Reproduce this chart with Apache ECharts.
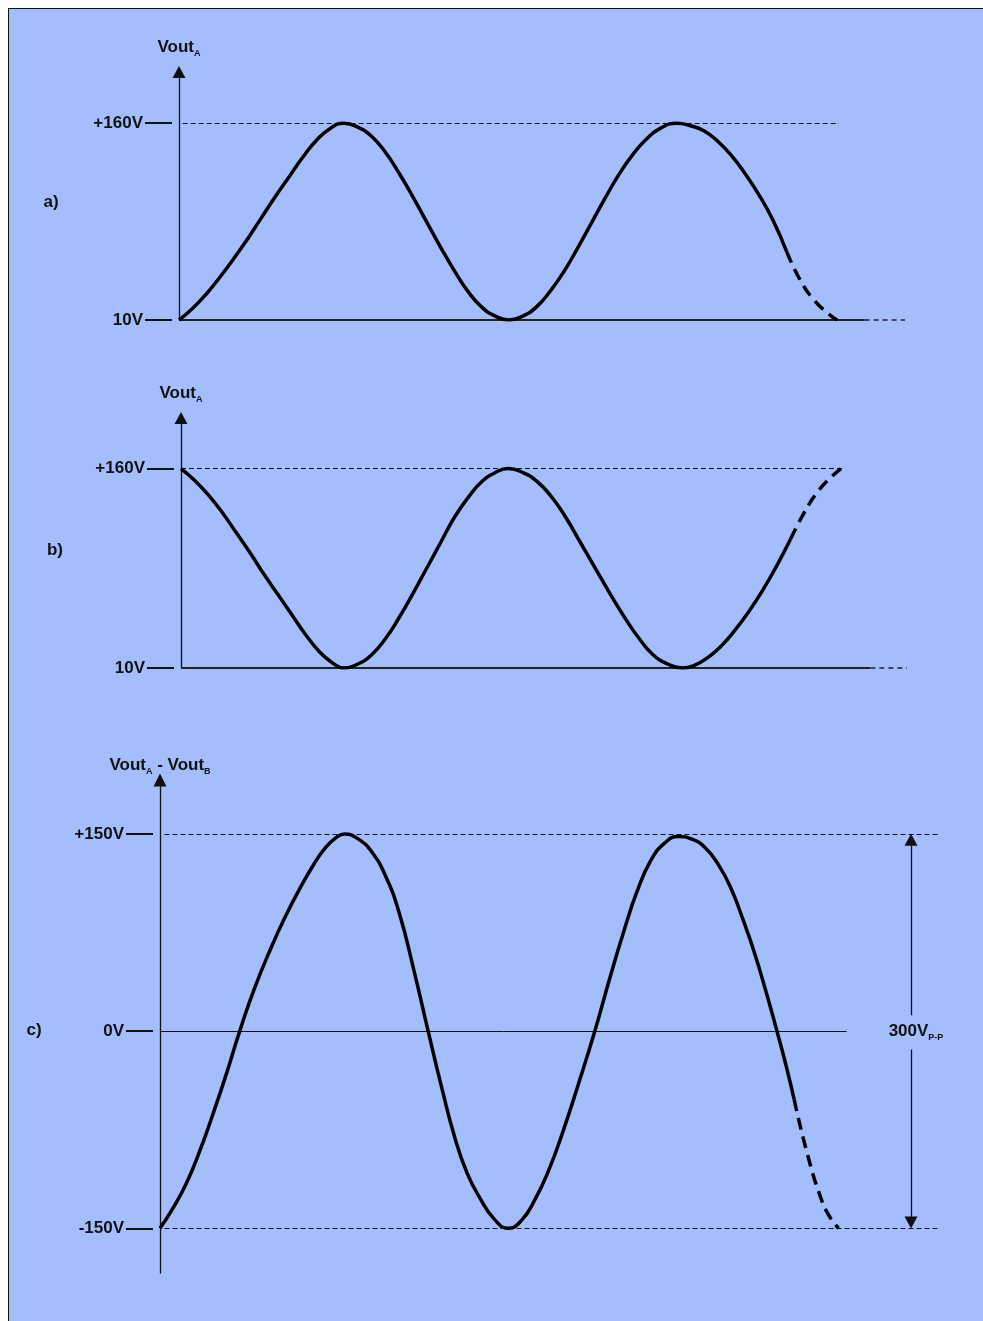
<!DOCTYPE html>
<html><head><meta charset="utf-8">
<script src="https://cdn.jsdelivr.net/npm/echarts@6/dist/echarts.min.js"></script>
<style>
html,body{margin:0;padding:0;background:#fff;}
#wrap{position:relative;width:983px;height:1321px;overflow:hidden;background:#fff;}
#panel{position:absolute;left:8px;top:8px;width:1000px;height:1400px;background:#a4bdfd;border-top:1.5px solid #111;border-left:1.5px solid #111;}
#chart{position:absolute;left:0;top:0;width:983px;height:1321px;}
</style></head><body>
<div id="wrap"><div id="panel"></div><div id="chart"></div></div>
<script>
// ---- data (phase in degrees, voltage in V) ----
const phaseA = [0, 15, 30, 45, 60, 75, 90, 105, 120, 135, 150, 165, 180,
  195, 210, 225, 240, 255, 270, 285, 300, 315, 330, 345, 360,
  375, 390, 405, 420, 435, 450, 465, 480, 495, 510, 525, 543,
  558, 573, 588, 603, 618, 633, 648, 663, 678, 693, 708, 718];
const voutA = [10, 19, 30, 43, 57, 72, 88, 104, 119, 134, 147, 156, 160,
  157, 150, 138, 122, 104, 85, 66, 48, 32, 20, 13, 10,
  13, 20, 32, 47, 65, 84, 103, 121, 136, 148, 156, 160,
  158, 154, 146, 135, 121, 105, 86, 62, 40, 25, 15, 10];
const dashFromA = 663;

const phaseB = [0, 15, 30, 45, 60, 75, 90, 105, 120, 135, 150, 165, 178,
  193, 208, 223, 238, 253, 268, 283, 298, 313, 328, 343, 357,
  373, 389, 405, 420, 436, 452, 468, 484, 500, 515, 531, 547,
  560, 575, 590, 605, 620, 635, 650, 665, 680, 695, 710, 720];
const voutB = [160, 151, 140, 127, 112, 97, 81, 66, 51, 36, 23, 14, 10,
  13, 20, 32, 48, 66, 85, 104, 123, 138, 150, 157, 160,
  157, 150, 138, 123, 104, 85, 66, 48, 32, 20, 13, 10,
  12, 18, 27, 39, 53, 69, 87, 107, 127, 143, 154, 160];
const dashFromB = 665;

const phaseC = [-24, -10, 5, 20, 35, 50, 64, 80, 99, 115, 130, 145, 158, 170, 180,
  195, 210, 225, 240, 256, 272, 287, 301, 315, 330, 345, 360,
  375, 390, 405, 420, 438, 456, 472, 488, 503, 518, 533, 548,
  563, 577, 592, 606, 620, 632, 645, 657, 667, 676, 690, 705, 715, 725];
const voutC = [-150, -135, -116, -91, -62, -31, 0, 32, 64, 88, 108, 126, 139, 147, 150,
  146, 136, 118, 90, 47, 0, -43, -80, -108, -128, -143, -150,
  -144, -128, -106, -78, -40, 0, 39, 76, 107, 130, 143, 148,
  146, 140, 127, 109, 84, 60, 30, 0, -26, -52, -92, -126, -141, -150];
const dashFromC = 676;

const ticksAB = [10, 160];
const tickLabelsAB = ['10V', '+160V'];
const ticksC = [-150, 0, 150];
const tickLabelsC = ['-150V', '0V', '+150V'];
const peakToPeak = '300V';

// ---- style ----
const FONT = "'Liberation Sans', Arial, Helvetica, sans-serif";
const INK = '#111';

function split(xs, ys, from) {
  const solid = [], dash = [];
  xs.forEach((x, i) => {
    if (x <= from) solid.push([x, ys[i]]);
    if (x >= from) dash.push([x, ys[i]]);
  });
  return { solid, dash };
}
const A = split(phaseA, voutA, dashFromA);
const B = split(phaseB, voutB, dashFromB);
const C = split(phaseC, voutC, dashFromC);

const nameRich = {
  m: { fontFamily: FONT, fontWeight: 'bold', fontSize: 17, color: INK, lineHeight: 20, verticalAlign: 'bottom', padding: [0, 0, 2, 0] },
  s: { fontFamily: FONT, fontWeight: 'bold', fontSize: 9, color: INK, lineHeight: 8, verticalAlign: 'bottom' }
};

function mainY(grid, min, max, name, gap, arrowSize) {
  return {
    type: 'value', gridIndex: grid, min, max, position: 'left',
    name, nameLocation: 'end', nameGap: gap,
    nameTextStyle: { rich: nameRich },
    axisLine: { show: true, onZero: false, symbol: ['none', 'triangle'], symbolSize: arrowSize,
      lineStyle: { color: INK, width: 1.3 } },
    axisTick: { show: false }, axisLabel: { show: false }, splitLine: { show: false }
  };
}
function tickY(grid, min, max, vals, labels) {
  return {
    type: 'value', gridIndex: grid, min, max, position: 'left', offset: 7,
    axisLine: { show: false, onZero: false },
    axisTick: { show: true, customValues: vals, length: 27, inside: false, lineStyle: { color: INK, width: 2 } },
    axisLabel: { show: true, customValues: vals, margin: 29,
      formatter: v => labels[vals.indexOf(v)] || '',
      fontFamily: FONT, fontWeight: 'bold', fontSize: 17, color: INK },
    splitLine: { show: false }
  };
}
function seg(x1, y1, x2, y2, style, s1, s2) {
  return [{ coord: [x1, y1], lineStyle: style, symbol: s1 || 'none' }, { coord: [x2, y2], symbol: s2 || 'none' }];
}
const thinDash = { color: INK, width: 1, type: [5, 3] };
const axisSolid = { color: '#222', width: 2, type: 'solid' };
const axisDash = { color: '#222', width: 1.5, type: [5, 4] };
const curve = { color: '#000', width: 3.5, type: 'solid' };
const curveDash = { color: '#000', width: 3.5, type: [12, 7] };

function ml(data) {
  return { silent: true, symbol: ['none', 'none'], symbolSize: [13, 12], label: { show: false },
    emphasis: { disabled: true }, data };
}
function line(xi, yi, data, style, extra) {
  return Object.assign({ type: 'line', xAxisIndex: xi, yAxisIndex: yi, data, smooth: 0.5,
    showSymbol: false, symbol: 'none', lineStyle: style, silent: true, z: 5 }, extra || {});
}

const option = {
  animation: false,
  backgroundColor: 'transparent',
  grid: [
    { left: 179, top: 72, width: 726, height: 248 },
    { left: 181, top: 418, width: 726, height: 250 },
    { left: 160, top: 780, width: 780, height: 493 }
  ],
  xAxis: [
    { type: 'value', gridIndex: 0, min: 0, max: 792, show: false },
    { type: 'value', gridIndex: 1, min: 0, max: 792, show: false },
    { type: 'value', gridIndex: 2, min: -24, max: 837, show: false }
  ],
  yAxis: [
    mainY(0, 10, 199, '{m|Vout}{s|A}', 14, [13, 12]),
    tickY(0, 10, 199, ticksAB, tickLabelsAB),
    mainY(1, 10, 198, '{m|Vout}{s|A}', 14, [13, 12]),
    tickY(1, 10, 198, ticksAB, tickLabelsAB),
    mainY(2, -184, 191, '{m|Vout}{s|A}{m| - Vout}{s|B}', 4, [13, 13]),
    tickY(2, -184, 191, ticksC, tickLabelsC)
  ],
  graphic: [
    { type: 'text', x: 51, y: 202, silent: true, style: { text: 'a)', font: 'bold 17px ' + FONT, fill: INK, align: 'center', verticalAlign: 'middle' } },
    { type: 'text', x: 55, y: 550, silent: true, style: { text: 'b)', font: 'bold 17px ' + FONT, fill: INK, align: 'center', verticalAlign: 'middle' } },
    { type: 'text', x: 34, y: 1030, silent: true, style: { text: 'c)', font: 'bold 17px ' + FONT, fill: INK, align: 'center', verticalAlign: 'middle' } }
  ],
  series: [
    line(0, 0, A.solid, curve, { markLine: ml([
      seg(4, 160, 720, 160, thinDash),
      seg(0, 10, 748, 10, axisSolid),
      seg(748, 10, 792, 10, axisDash)
    ]) }),
    line(0, 0, A.dash, curveDash),
    line(1, 2, B.solid, curve, { markLine: ml([
      seg(0, 160, 722, 160, thinDash),
      seg(0, 10, 752, 10, axisSolid),
      seg(752, 10, 792, 10, axisDash)
    ]) }),
    line(1, 2, B.dash, curveDash),
    line(2, 4, C.solid, curve, {
      markLine: ml([
        seg(-19, 150, 837, 150, thinDash),
        seg(-19, -150, 834, -150, thinDash),
        seg(-24, 0, 734, 0, { color: INK, width: 1, type: 'solid' }),
        seg(805, 12, 805, 145.5, { color: INK, width: 1.3, type: 'solid' }, 'none', 'triangle'),
        seg(805, -14, 805, -145.5, { color: INK, width: 1.3, type: 'solid' }, 'none', 'triangle')
      ]),
      markPoint: { silent: true, symbol: 'circle', symbolSize: 1, itemStyle: { color: 'rgba(0,0,0,0)' },
        label: { show: true, position: 'inside', offset: [5, 1], formatter: '{m|' + peakToPeak + '}{s|P-P}', rich: nameRich },
        data: [{ coord: [805, 0] }] }
    }),
    line(2, 4, C.dash, curveDash)
  ]
};
const chart = echarts.init(document.getElementById('chart'), null, { renderer: 'canvas' });
chart.setOption(option);
</script>
</body></html>
